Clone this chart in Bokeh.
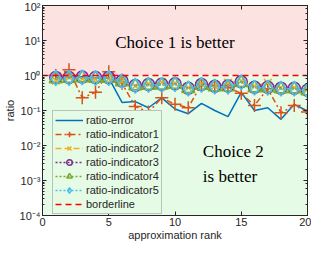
from bokeh.plotting import figure
from bokeh.models import (BoxAnnotation, Label, LogAxis, LinearAxis, FixedTicker,
                          CustomJSTickFormatter, Legend, LegendItem, LogTicker)
from bokeh.embed import file_html
from bokeh.resources import INLINE

rank = list(range(1, 21))
ratio_error = [0.85, 0.9, 0.92, 0.85, 0.85, 0.17, 0.18, 0.12, 0.23, 0.11,
               0.081, 0.16, 0.10, 0.067, 0.33, 0.10, 0.12, 0.056, 0.15, 0.097]
ratio_ind1 = [1.0, 1.45, 0.23, 0.33, 1.28, 0.6, 0.13, 0.09, 0.23, 0.15,
              0.12, 0.57, 0.51, 0.45, 0.31, 0.14, 0.42, 0.086, 0.14, 0.09]
ratio_ind2 = [0.72, 0.9, 0.8, 0.78, 0.8, 0.68, 0.5, 0.58, 0.65, 0.6,
              0.45, 0.58, 0.5, 0.62, 0.7, 0.5, 0.62, 0.45, 0.45, 0.4]
ratio_ind3 = [0.88, 0.88, 0.9, 0.88, 0.87, 0.7, 0.52, 0.55, 0.56, 0.58,
              0.43, 0.55, 0.49, 0.5, 0.66, 0.46, 0.46, 0.43, 0.43, 0.38]
ratio_ind4 = [0.8, 0.82, 0.85, 0.82, 0.82, 0.65, 0.5, 0.52, 0.53, 0.55,
              0.42, 0.52, 0.47, 0.47, 0.62, 0.44, 0.44, 0.41, 0.41, 0.36]
ratio_ind5 = [0.85, 0.85, 0.88, 0.85, 0.85, 0.69, 0.51, 0.54, 0.54, 0.57,
              0.42, 0.54, 0.48, 0.48, 0.65, 0.45, 0.45, 0.42, 0.42, 0.37]
border_x = [0, 20]
border_y = [1, 1]
x_ticks = [0, 5, 10, 15, 20]

AX = "#262626"
FONT = "Liberation Sans"

p = figure(width=311, height=243, y_axis_type="log", x_range=(0, 20), y_range=(1e-4, 1e2),
           output_backend="svg", toolbar_location=None,
           min_border_left=6, min_border_right=4, min_border_top=5, min_border_bottom=4,
           background_fill_color="white")
p.grid.visible = False
p.outline_line_color = AX

sup_code = """
const sup = {'-':'\u207b','0':'\u2070','1':'\u00b9','2':'\u00b2','3':'\u00b3','4':'\u2074','5':'\u2075','6':'\u2076','7':'\u2077','8':'\u2078','9':'\u2079'};
const e = Math.round(Math.log10(tick));
return '10' + String(e).split('').map(c => sup[c]).join('');
"""
ya = p.yaxis[0]
ya.formatter = CustomJSTickFormatter(code=sup_code)
ya.axis_label = "ratio"
xa = p.xaxis[0]
xa.ticker = FixedTicker(ticks=x_ticks)
xa.axis_label = "approximation rank"
for ax in (xa, ya):
    ax.axis_line_color = AX
    ax.major_tick_line_color = AX
    ax.minor_tick_line_color = AX
    ax.major_tick_in = 4
    ax.major_tick_out = 0
    ax.minor_tick_in = 2
    ax.minor_tick_out = 0
    ax.major_label_text_font = FONT
    ax.major_label_text_font_size = "11px"
    ax.major_label_text_color = AX
    ax.axis_label_text_font = FONT
    ax.axis_label_text_font_size = "11px"
    ax.axis_label_text_font_style = "normal"
    ax.axis_label_text_color = AX
    ax.major_label_standoff = 2
    ax.axis_label_standoff = 1
xa.minor_tick_line_color = None
xa.major_label_standoff = 2
xa.axis_label_standoff = 0

blank = CustomJSTickFormatter(code="return '';")
ra = LogAxis(ticker=LogTicker(), formatter=blank, axis_line_color=AX, major_tick_line_color=AX,
             minor_tick_line_color=AX, major_tick_in=4, major_tick_out=0, minor_tick_in=2,
             minor_tick_out=0, major_label_text_font_size="0px", major_label_standoff=0,
             axis_label_standoff=0)
p.add_layout(ra, "right")
ta = LinearAxis(ticker=FixedTicker(ticks=x_ticks), formatter=blank, axis_line_color=AX,
                major_tick_line_color=AX, minor_tick_line_color=None, major_tick_in=4,
                major_tick_out=0, major_label_text_font_size="0px", major_label_standoff=0,
                axis_label_standoff=0)
p.add_layout(ta, "above")

p.add_layout(BoxAnnotation(bottom=1, fill_color="#fde2e2", fill_alpha=1, line_color=None, level="underlay"))
p.add_layout(BoxAnnotation(top=1, fill_color="#e6fbe6", fill_alpha=1, line_color=None, level="underlay"))

items = []
r = p.line(rank, ratio_error, line_color="#0072BD", line_width=1.5)
items.append(LegendItem(label="ratio-error", renderers=[r]))

specs = [
    (ratio_ind1, "#D95319", "6 3 2 3", "cross", 13),
    (ratio_ind2, "#EDB120", "6 3", "x", 11),
    (ratio_ind3, "#7E2F8E", "2 2", "circle", 12),
    (ratio_ind4, "#77AC30", "2 2", "triangle", 13),
    (ratio_ind5, "#4DBEEE", "2 2", "diamond", 15),
]
for i, (vals, col, dash, mk, sz) in enumerate(specs, start=1):
    rl = p.line(rank, vals, line_color=col, line_width=1.5, line_dash=dash)
    rs = p.scatter(rank, vals, marker=mk, size=sz, fill_color=None, line_color=col, line_width=1.5)
    items.append(LegendItem(label=f"ratio-indicator{i}", renderers=[rl, rs]))

rb = p.line(border_x, border_y, line_color="#FF0000", line_width=1.5, line_dash="6 4")
items.append(LegendItem(label="borderline", renderers=[rb]))

legend = Legend(items=items, location=(10, 1), background_fill_color="#e6fbe6",
                background_fill_alpha=1, border_line_color="#8a8a8a",
                label_text_font=FONT, label_text_font_size="11px", label_text_color=AX,
                glyph_width=28, glyph_height=14, label_height=14, spacing=0,
                padding=2, margin=0, label_standoff=3)
p.add_layout(legend)

p.add_layout(Label(x=10, y=8.5, text="Choice 1 is better", text_align="center",
                   text_baseline="middle", text_font="Liberation Serif", text_font_size="17px",
                   text_color="black"))
p.add_layout(Label(x=12.1, y=0.0069, text="Choice 2", text_align="left",
                   text_baseline="middle", text_font="Liberation Serif", text_font_size="17px",
                   text_color="black"))
p.add_layout(Label(x=12.1, y=0.0013, text="is better", text_align="left",
                   text_baseline="middle", text_font="Liberation Serif", text_font_size="17px",
                   text_color="black"))

open("out.html", "w").write(file_html(p, INLINE))
